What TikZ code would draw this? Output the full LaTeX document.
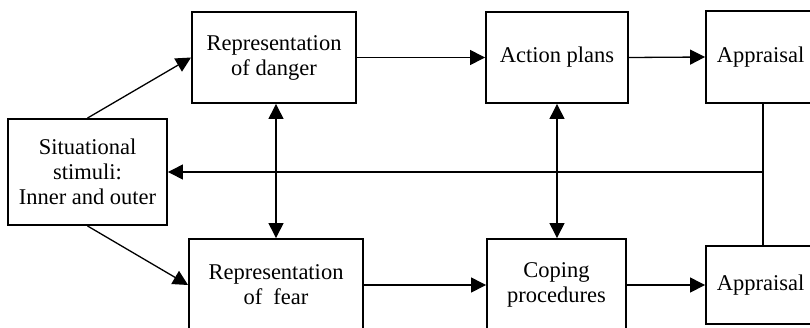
\documentclass[tikz,border=0pt]{standalone}
\usepackage{fontspec}
\setmainfont{Liberation Serif}
\usetikzlibrary{arrows.meta}
\begin{document}
\begin{tikzpicture}[x=1pt,y=-1pt,
  box/.style={draw, line width=1.9pt, align=center, inner sep=0pt,
    font=\fontsize{22.5}{25}\selectfont},
  link/.style={line width=1.3pt, -{Triangle[length=15pt,width=15pt]}},
  both/.style={line width=1.3pt, {Triangle[length=15pt,width=15pt]}-{Triangle[length=15pt,width=15pt]}},
  plain/.style={line width=1.3pt}]
\useasboundingbox (0,0) rectangle (810,327);
\clip (0,0) rectangle (810,327);

% boxes
\node[box, minimum width=159pt, minimum height=106pt] (sit)  at (87.5,172)  {Situational\\stimuli:\\Inner and outer};
\node[box, minimum width=164pt, minimum height=91pt]  (dang) at (274,57.5)  {Representation\\of danger};
\node[box, minimum width=174pt, minimum height=92pt]  (fear) at (276,285)   {Representation\\of\ \ fear};
\node[box, minimum width=142pt, minimum height=91pt]  (act)  at (557,57.5)  {Action plans};
\node[box, minimum width=139pt, minimum height=92pt]  (cop)  at (556.5,285) {Coping\\procedures};
\node[box, minimum width=109pt, minimum height=92pt]  (app1) at (760.5,57)  {Appraisal};
\node[box, minimum width=109pt, minimum height=78pt]  (app2) at (760.5,285) {Appraisal};

% forward connectors
\draw[link] (sit.north) -- (dang.west);
\draw[link] (sit.south) -- (fear.west);
\draw[link] (dang.east) -- (act.west);
\draw[link] (act.east) -- (app1.west);
\draw[link] (fear.east) -- (cop.west);
\draw[link] (cop.east) -- (app2.west);

% two-way links between the rows
\draw[both] (dang.south -| fear.north) -- (fear.north);
\draw[both] (act.south) -- (act.south |- cop.north);

% feedback from the appraisals
\coordinate (j) at (763,172);
\draw[plain] (app1.south -| j) -- (app2.north -| j);
\draw[link] (j) -- (sit.east);
\end{tikzpicture}
\end{document}
